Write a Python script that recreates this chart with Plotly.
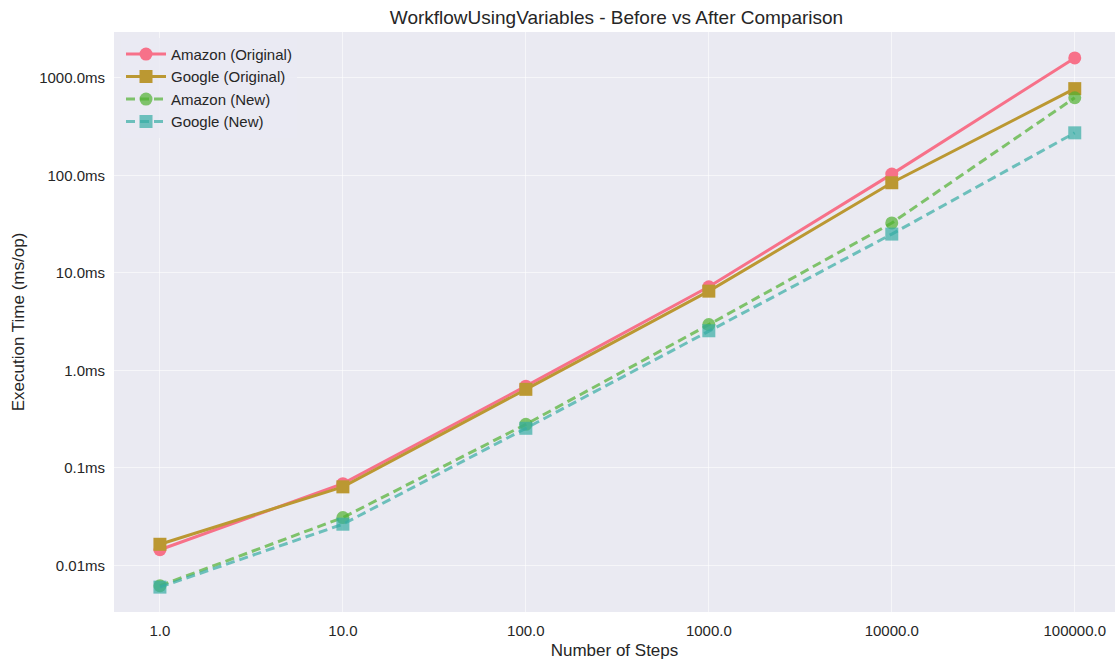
import plotly.graph_objects as go

# Benchmark data: execution time (ms/op) by number of steps
steps = [1, 10, 100, 1000, 10000, 100000]
amazon_original = [0.0145, 0.069, 0.69, 7.2, 103, 1600]
google_original = [0.0165, 0.064, 0.64, 6.5, 84, 775]
amazon_new = [0.0062, 0.031, 0.28, 2.95, 32.5, 625]
google_new = [0.0060, 0.0265, 0.255, 2.55, 25, 273]

x_tick_vals = [1, 10, 100, 1000, 10000, 100000]
x_tick_text = ["1.0", "10.0", "100.0", "1000.0", "10000.0", "100000.0"]
y_tick_vals = [0.01, 0.1, 1, 10, 100, 1000]
y_tick_text = ["0.01ms", "0.1ms", "1.0ms", "10.0ms", "100.0ms", "1000.0ms"]

PINK = "#f77189"
GOLD = "#bb9832"
GREEN = "rgba(80,177,49,0.7)"
TEAL = "rgba(54,173,164,0.7)"

fig = go.Figure()
fig.add_trace(go.Scatter(
    x=steps, y=amazon_original, name="Amazon (Original)", mode="lines+markers",
    line=dict(color=PINK, width=3), marker=dict(symbol="circle", size=13, color=PINK)))
fig.add_trace(go.Scatter(
    x=steps, y=google_original, name="Google (Original)", mode="lines+markers",
    line=dict(color=GOLD, width=3), marker=dict(symbol="square", size=13, color=GOLD)))
fig.add_trace(go.Scatter(
    x=steps, y=amazon_new, name="Amazon (New)", mode="lines+markers",
    line=dict(color=GREEN, width=3, dash="9px,5px"),
    marker=dict(symbol="circle", size=13, color=GREEN)))
fig.add_trace(go.Scatter(
    x=steps, y=google_new, name="Google (New)", mode="lines+markers",
    line=dict(color=TEAL, width=3, dash="9px,5px"),
    marker=dict(symbol="square", size=13, color=TEAL)))

font_family = "Liberation Sans, Arial, sans-serif"
fig.update_layout(
    width=1115, height=666,
    margin=dict(l=114, r=0, t=32, b=54),
    paper_bgcolor="white",
    plot_bgcolor="#eaeaf2",
    font=dict(family=font_family, size=15, color="#262626"),
    title=dict(text="WorkflowUsingVariables - Before vs After Comparison",
               x=0.502, xref="paper", xanchor="center", y=0.974, yanchor="middle",
               font=dict(size=19, color="#262626")),
    legend=dict(x=0.007, y=0.99, xanchor="left", yanchor="top",
                bgcolor="rgba(234,234,242,0.8)", borderwidth=0,
                font=dict(size=15, color="#262626"),
                itemwidth=40, tracegroupgap=3),
    xaxis=dict(type="log", range=[-0.251, 5.22], tickvals=x_tick_vals, ticktext=x_tick_text,
               showgrid=True, gridcolor="rgba(255,255,255,0.55)", gridwidth=1, zeroline=False,
               showline=False, ticks="", ticklabelstandoff=8,
               title=dict(text="Number of Steps", font=dict(size=17), standoff=6)),
    yaxis=dict(type="log", range=[-2.477, 3.47], tickvals=y_tick_vals, ticktext=y_tick_text,
               showgrid=True, gridcolor="rgba(255,255,255,0.55)", gridwidth=1, zeroline=False,
               showline=False, ticks="", ticklabelstandoff=8,
               title=dict(text="Execution Time (ms/op)", font=dict(size=17), standoff=10)),
)

fig.write_html("out.html")
